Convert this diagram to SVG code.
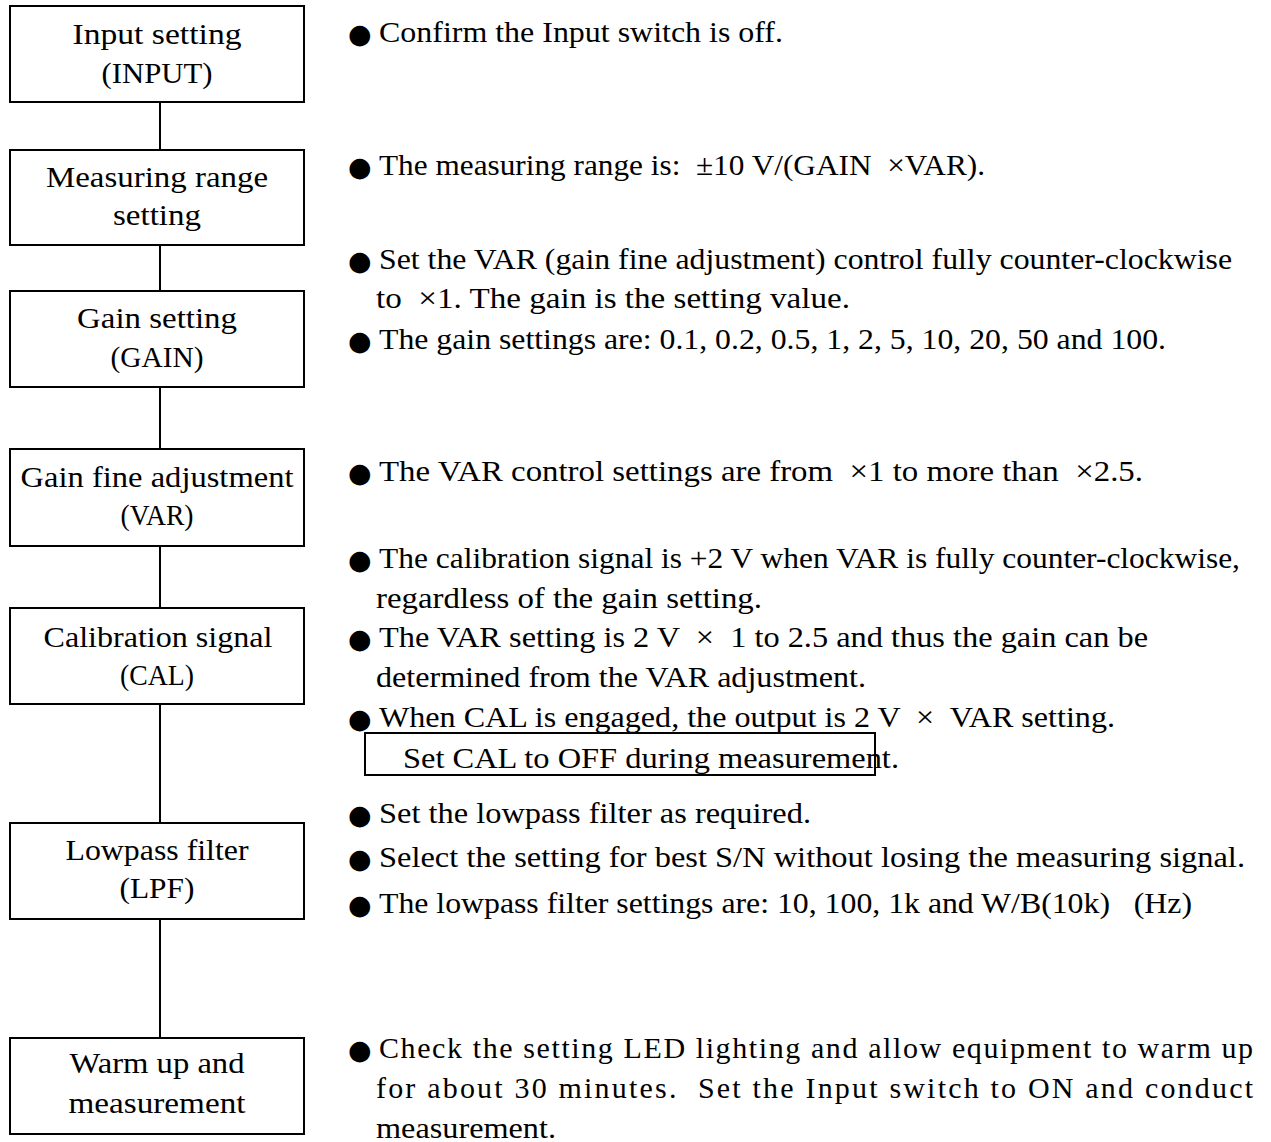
<svg xmlns="http://www.w3.org/2000/svg" width="1271" height="1142" viewBox="0 0 1271 1142">
<style>
.box{fill:#fff;stroke:#000;stroke-width:2}
.con{stroke:#000;stroke-width:2;fill:none}
.bt{font-family:"Liberation Serif","Times New Roman",serif;font-size:30px;fill:#000;text-anchor:middle}
.t{font-family:"Liberation Serif","Times New Roman",serif;font-size:30px;fill:#000;white-space:pre}
.b{font-family:"DejaVu Sans",sans-serif;font-size:27px;fill:#000}
</style>
<rect width="1271" height="1142" fill="#fff"/>
<g id="connectors">
<line class="con" x1="160" y1="102" x2="160" y2="150"/>
<line class="con" x1="160" y1="245" x2="160" y2="291"/>
<line class="con" x1="160" y1="387" x2="160" y2="449"/>
<line class="con" x1="160" y1="546" x2="160" y2="608"/>
<line class="con" x1="160" y1="704" x2="160" y2="823"/>
<line class="con" x1="160" y1="919" x2="160" y2="1038"/>
</g>
<g id="n-input">
<rect class="box" x="10" y="6" width="294" height="96"/>
<text class="bt" x="157" y="44" textLength="169" lengthAdjust="spacingAndGlyphs">Input setting</text>
<text class="bt" x="157" y="83" textLength="111" lengthAdjust="spacingAndGlyphs">(INPUT)</text>
</g>
<g id="n-range">
<rect class="box" x="10" y="150" width="294" height="95"/>
<text class="bt" x="157" y="187" textLength="222" lengthAdjust="spacingAndGlyphs">Measuring range</text>
<text class="bt" x="157" y="225" textLength="88" lengthAdjust="spacingAndGlyphs">setting</text>
</g>
<g id="n-gain">
<rect class="box" x="10" y="291" width="294" height="96"/>
<text class="bt" x="157" y="328" textLength="160" lengthAdjust="spacingAndGlyphs">Gain setting</text>
<text class="bt" x="157" y="367" textLength="93" lengthAdjust="spacingAndGlyphs">(GAIN)</text>
</g>
<g id="n-var">
<rect class="box" x="10" y="449" width="294" height="97"/>
<text class="bt" x="157" y="487" textLength="273" lengthAdjust="spacingAndGlyphs">Gain fine adjustment</text>
<text class="bt" x="157" y="525" textLength="73" lengthAdjust="spacingAndGlyphs">(VAR)</text>
</g>
<g id="n-cal">
<rect class="box" x="10" y="608" width="294" height="96"/>
<text class="bt" x="158" y="647" textLength="229" lengthAdjust="spacingAndGlyphs">Calibration signal</text>
<text class="bt" x="157" y="685" textLength="74" lengthAdjust="spacingAndGlyphs">(CAL)</text>
</g>
<g id="n-lpf">
<rect class="box" x="10" y="823" width="294" height="96"/>
<text class="bt" x="157" y="860" textLength="183" lengthAdjust="spacingAndGlyphs">Lowpass filter</text>
<text class="bt" x="157" y="898" textLength="75" lengthAdjust="spacingAndGlyphs">(LPF)</text>
</g>
<g id="n-warm">
<rect class="box" x="10" y="1038" width="294" height="96"/>
<text class="bt" x="157" y="1073" textLength="175" lengthAdjust="spacingAndGlyphs">Warm up and</text>
<text class="bt" x="157" y="1113" textLength="177" lengthAdjust="spacingAndGlyphs">measurement</text>
</g>
<g id="notes">
<text class="b" x="348" y="43">●</text>
<text class="t" x="379" y="42" textLength="404" lengthAdjust="spacingAndGlyphs">Confirm the Input switch is off.</text>
<text class="b" x="348" y="176">●</text>
<text class="t" x="379" y="175" textLength="606" lengthAdjust="spacingAndGlyphs">The measuring range is:  ±10 V/(GAIN  ×VAR).</text>
<text class="b" x="348" y="270">●</text>
<text class="t" x="379" y="269" textLength="853" lengthAdjust="spacingAndGlyphs">Set the VAR (gain fine adjustment) control fully counter-clockwise</text>
<text class="t" x="376" y="308" textLength="474" lengthAdjust="spacingAndGlyphs">to  ×1. The gain is the setting value.</text>
<text class="b" x="348" y="350">●</text>
<text class="t" x="379" y="349" textLength="787" lengthAdjust="spacingAndGlyphs">The gain settings are: 0.1, 0.2, 0.5, 1, 2, 5, 10, 20, 50 and 100.</text>
<text class="b" x="348" y="482">●</text>
<text class="t" x="379" y="481" textLength="764" lengthAdjust="spacingAndGlyphs">The VAR control settings are from  ×1 to more than  ×2.5.</text>
<text class="b" x="348" y="569">●</text>
<text class="t" x="379" y="568" textLength="861" lengthAdjust="spacingAndGlyphs">The calibration signal is +2 V when VAR is fully counter-clockwise,</text>
<text class="t" x="376" y="608" textLength="386" lengthAdjust="spacingAndGlyphs">regardless of the gain setting.</text>
<text class="b" x="348" y="648">●</text>
<text class="t" x="379" y="647" textLength="769" lengthAdjust="spacingAndGlyphs">The VAR setting is 2 V  ×  1 to 2.5 and thus the gain can be</text>
<text class="t" x="376" y="687" textLength="490" lengthAdjust="spacingAndGlyphs">determined from the VAR adjustment.</text>
<text class="b" x="348" y="728">●</text>
<text class="t" x="379" y="727" textLength="736" lengthAdjust="spacingAndGlyphs">When CAL is engaged, the output is 2 V  ×  VAR setting.</text>
<rect x="365" y="733" width="510" height="42" fill="none" stroke="#000" stroke-width="2"/>
<text class="t" x="403" y="768" textLength="496" lengthAdjust="spacingAndGlyphs">Set CAL to OFF during measurement.</text>
<text class="b" x="348" y="824">●</text>
<text class="t" x="379" y="823" textLength="432" lengthAdjust="spacingAndGlyphs">Set the lowpass filter as required.</text>
<text class="b" x="348" y="868">●</text>
<text class="t" x="379" y="867" textLength="866" lengthAdjust="spacingAndGlyphs">Select the setting for best S/N without losing the measuring signal.</text>
<text class="b" x="348" y="914">●</text>
<text class="t" x="379" y="913" textLength="813" lengthAdjust="spacingAndGlyphs">The lowpass filter settings are: 10, 100, 1k and W/B(10k)   (Hz)</text>
<text class="b" x="348" y="1059">●</text>
<text class="t" x="379" y="1058" textLength="874" lengthAdjust="spacing">Check the setting LED lighting and allow equipment to warm up</text>
<text class="t" x="376" y="1098" textLength="877" lengthAdjust="spacing">for about 30 minutes.  Set the Input switch to ON and conduct</text>
<text class="t" x="376" y="1138" textLength="180" lengthAdjust="spacingAndGlyphs">measurement.</text>
</g>
</svg>
